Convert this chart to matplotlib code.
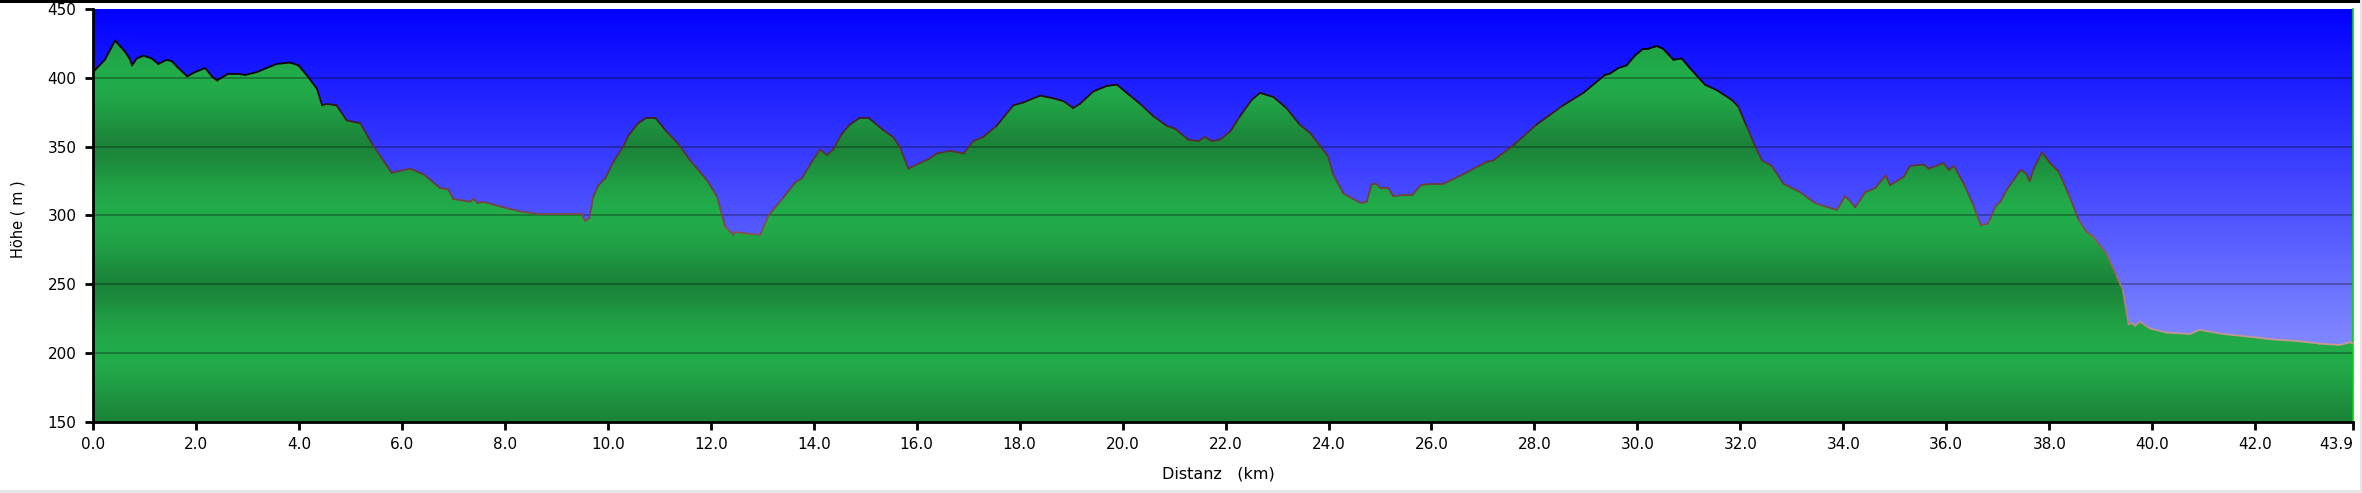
import numpy as np
import matplotlib
matplotlib.use("Agg")
import matplotlib.pyplot as plt
from matplotlib.patches import Polygon, Rectangle
from matplotlib.collections import LineCollection
from matplotlib.colors import LinearSegmentedColormap, Normalize

# ---- data ----
dist_km = [0.00, 0.23, 0.43, 0.62, 0.71, 0.76, 0.85, 0.98, 1.14, 1.27, 1.43, 1.53, 1.66, 1.83,
           1.98, 2.18, 2.31, 2.41, 2.63, 2.79, 2.95, 3.18, 3.37, 3.57, 3.83, 3.99, 4.15, 4.35,
           4.45, 4.54, 4.73, 4.93, 5.19, 5.44, 5.80, 6.16, 6.42, 6.74, 6.90, 7.00, 7.32, 7.39,
           7.48, 7.58, 7.97, 8.29, 8.68, 9.13, 9.49, 9.56, 9.64, 9.72, 9.82, 9.95, 10.11, 10.30,
           10.40, 10.59, 10.76, 10.92, 11.14, 11.37, 11.60, 11.92, 12.12, 12.28, 12.44, 12.47,
           12.70, 12.96, 13.12, 13.41, 13.64, 13.77, 13.93, 14.12, 14.26, 14.38, 14.54, 14.70,
           14.90, 15.06, 15.19, 15.35, 15.54, 15.67, 15.84, 16.06, 16.23, 16.39, 16.65, 16.91,
           17.10, 17.29, 17.55, 17.88, 18.07, 18.40, 18.66, 18.85, 19.04, 19.17, 19.43, 19.69,
           19.89, 20.08, 20.34, 20.60, 20.86, 21.02, 21.28, 21.47, 21.60, 21.73, 21.89, 22.09,
           22.28, 22.51, 22.67, 22.93, 23.18, 23.44, 23.64, 23.83, 23.99, 24.09, 24.29, 24.48,
           24.64, 24.74, 24.84, 24.93, 25.01, 25.16, 25.26, 25.45, 25.63, 25.79, 25.97, 26.23,
           26.62, 27.07, 27.20, 27.59, 28.04, 28.56, 28.95, 29.37, 29.47, 29.63, 29.79, 29.95,
           30.11, 30.21, 30.38, 30.50, 30.70, 30.86, 31.02, 31.31, 31.54, 31.83, 31.96, 32.12,
           32.29, 32.42, 32.61, 32.84, 33.16, 33.45, 33.87, 33.94, 34.03, 34.12, 34.23, 34.43,
           34.62, 34.82, 34.91, 35.17, 35.30, 35.56, 35.66, 35.95, 36.05, 36.15, 36.34, 36.51,
           36.67, 36.80, 36.86, 36.96, 37.05, 37.18, 37.31, 37.44, 37.54, 37.62, 37.70, 37.86,
           38.02, 38.18, 38.37, 38.57, 38.73, 38.85, 39.12, 39.31, 39.43, 39.54, 39.60, 39.67,
           39.76, 39.96, 40.28, 40.73, 40.92, 41.38, 41.90, 42.35, 42.80, 43.25, 43.64, 43.84,
           43.90]
elev_m = [404, 413, 427, 419, 414, 409, 414, 416, 414, 410, 413, 412, 407, 401,
          404, 407, 401, 398, 403, 403, 402, 404, 407, 410, 411, 409, 402, 392,
          380, 381, 380, 369, 367, 351, 331, 334, 330, 320, 319, 312, 310, 312,
          309, 310, 306, 303, 301, 301, 301, 296, 298, 314, 322, 327, 339, 350,
          358, 367, 371, 371, 361, 352, 340, 326, 314, 292, 286, 288,
          287, 286, 300, 313, 324, 327, 337, 348, 344, 348, 359, 366,
          371, 371, 367, 362, 357, 350, 334, 338, 341, 345, 347, 345,
          354, 357, 365, 380, 382, 387, 385, 383, 378, 381, 390, 394,
          395, 389, 381, 372, 365, 363, 355, 354, 357, 354, 355, 361,
          372, 384, 389, 386, 378, 366, 360, 351, 343, 330, 316, 312,
          309, 310, 323, 323, 320, 320, 314, 315, 315, 322, 323, 323,
          330, 339, 340, 351, 366, 380, 389, 402, 403, 407, 409, 416,
          421, 421, 423, 421, 413, 414, 407, 395, 391, 384, 379, 365,
          350, 340, 336, 323, 317, 309, 304, 308, 314, 311, 306, 317,
          320, 329, 322, 328, 336, 337, 334, 338, 333, 336, 323, 309,
          293, 294, 298, 307, 310, 319, 326, 333, 331, 325, 334, 346,
          338, 332, 316, 297, 288, 285, 272, 256, 246, 221, 222, 220,
          223, 218, 215, 214, 217, 214, 212, 210, 209, 207, 206, 208,
          207]
x_ticks = [0, 2, 4, 6, 8, 10, 12, 14, 16, 18, 20, 22, 24, 26, 28, 30, 32, 34, 36, 38, 40, 42, 43.9]
x_tick_labels = ["0.0", "2.0", "4.0", "6.0", "8.0", "10.0", "12.0", "14.0", "16.0", "18.0", "20.0",
                 "22.0", "24.0", "26.0", "28.0", "30.0", "32.0", "34.0", "36.0", "38.0", "40.0",
                 "42.0", "43.9"]
y_ticks = [150, 200, 250, 300, 350, 400, 450]

XMIN, XMAX = 0.0, 43.9
YMIN, YMAX = 150, 450

W, H = 2362, 493
fig = plt.figure(figsize=(W / 100, H / 100), dpi=100)
fig.patch.set_facecolor("white")
ax_l, ax_r, ax_t, ax_b = 93, 2353, 8.8, 422.2
ax = fig.add_axes([ax_l / W, (H - ax_b) / H, (ax_r - ax_l) / W, (ax_b - ax_t) / H])
ax.set_xlim(XMIN, XMAX)
ax.set_ylim(YMIN, YMAX)

# sky gradient
n = 256
t = np.linspace(0, 1, n)[:, None]  # 0 top -> 1 bottom
top = np.array([0, 0, 255]) / 255
bot = np.array([158, 168, 255]) / 255
sky = (top[None, None, :] * (1 - t[..., None]) + bot[None, None, :] * t[..., None])
sky = np.repeat(sky, 2, axis=1)
ax.imshow(sky, extent=[XMIN, XMAX, YMIN, YMAX], aspect="auto", origin="upper", zorder=0,
          interpolation="bilinear")

# green banded fill
ev = np.linspace(YMAX, YMIN, 600)
k = 0.5 + 0.5 * np.cos(2 * np.pi * (ev - 200) / 100)
k = k ** 0.7
light = np.array([34, 172, 74]) / 255
dark = np.array([27, 132, 57]) / 255
green = dark[None, :] * (1 - k[:, None]) + light[None, :] * k[:, None]
green = np.repeat(green[:, None, :], 2, axis=1)
im = ax.imshow(green, extent=[XMIN, XMAX, YMIN, YMAX], aspect="auto", origin="upper", zorder=1,
               interpolation="bilinear")
verts = [(dist_km[0], YMIN)] + list(zip(dist_km, elev_m)) + [(dist_km[-1], YMIN)]
poly = Polygon(verts, closed=True, facecolor="none", edgecolor="none")
ax.add_patch(poly)
im.set_clip_path(poly)

# grid lines
for yv in [200, 250, 300, 350, 400]:
    ax.axhline(yv, color="black", alpha=0.28, lw=1.4, zorder=2)

# outline coloured by elevation
cmap = LinearSegmentedColormap.from_list(
    "outline",
    [(0.0, (195/255, 155/255, 145/255)),
     (0.2, (160/255, 110/255, 105/255)),
     (0.45, (120/255, 70/255, 70/255)),
     (0.7, (85/255, 45/255, 45/255)),
     (0.86, (30/255, 10/255, 10/255)),
     (1.0, (0, 0, 0))])
norm = Normalize(210, 420)
pts = np.column_stack([dist_km, elev_m])
segs = np.stack([pts[:-1], pts[1:]], axis=1)
mid = 0.5 * (np.array(elev_m[:-1]) + np.array(elev_m[1:]))
lc = LineCollection(segs, colors=cmap(norm(mid)), linewidths=1.3, zorder=3, capstyle="round")
ax.add_collection(lc)

# axes styling
ax.spines["top"].set_visible(False)
ax.spines["right"].set_color((0, 0.85, 0))
ax.spines["right"].set_linewidth(1.2)
ax.spines["left"].set_linewidth(2)
ax.spines["bottom"].set_linewidth(2)
ax.set_xticks(x_ticks)
ax.set_xticklabels(x_tick_labels)
ax.set_yticks(y_ticks)
ax.set_yticklabels([str(v) for v in y_ticks])
ax.tick_params(axis="both", direction="out", length=6, width=2, color="black", labelsize=11)
ax.tick_params(axis="y", pad=6)
ax.tick_params(axis="x", pad=5)
ax.get_xticklabels()[-1].set_horizontalalignment("right")

ax.set_xlabel("Distanz   (km)", fontsize=11.5)
ax.xaxis.set_label_coords((1218 - ax_l) / (ax_r - ax_l), -(474 - ax_b) / (ax_b - ax_t))
ax.xaxis.label.set_verticalalignment("center")
ax.set_ylabel("Höhe ( m )", fontsize=10.5)
ax.yaxis.set_label_coords((18 - ax_l) / (ax_r - ax_l), (ax_b - 219) / (ax_b - ax_t))
ax.yaxis.label.set_verticalalignment("center")
ax.yaxis.label.set_horizontalalignment("center")

# figure frame
fig.add_artist(Rectangle((0, 1 - 2.5 / H), 1, 2.5 / H, transform=fig.transFigure,
                         facecolor="black", edgecolor="none"))
fig.add_artist(Rectangle((0, 0), 1, 3 / H, transform=fig.transFigure,
                         facecolor="#e6e6e6", edgecolor="none"))
fig.add_artist(Rectangle((1 - 2 / W, 0), 2 / W, 1, transform=fig.transFigure,
                         facecolor="#e6e6e6", edgecolor="none"))

fig.savefig("out.png", dpi=100)
